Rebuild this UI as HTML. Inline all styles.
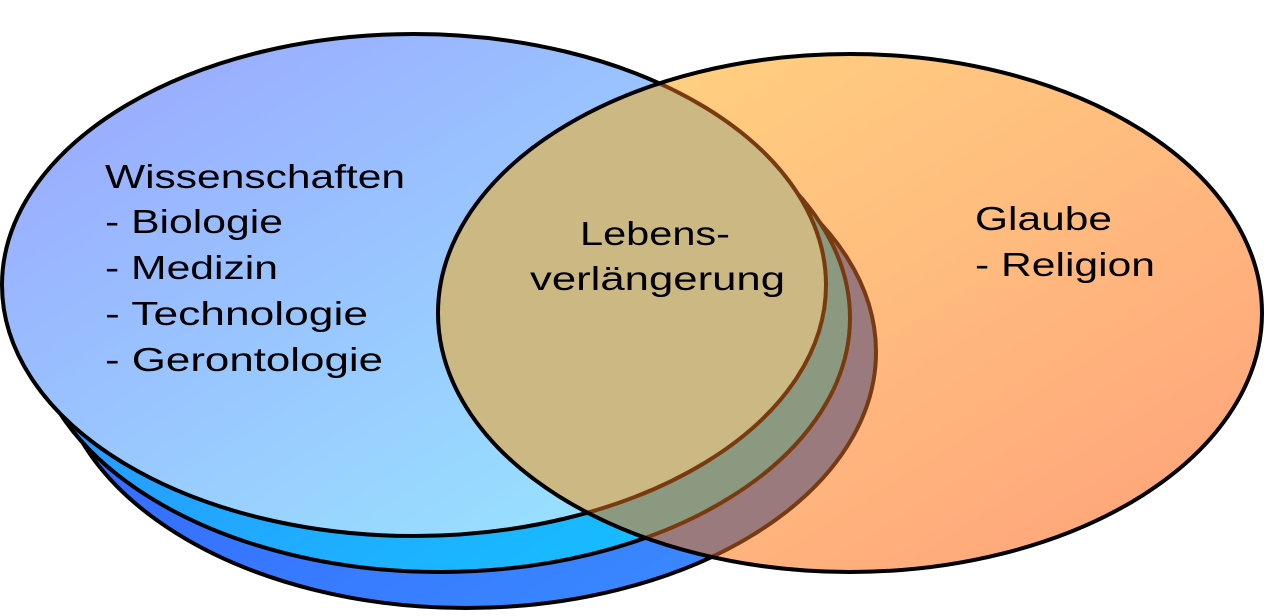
<!DOCTYPE html>
<html><head><meta charset="utf-8"><style>html,body{margin:0;padding:0;background:#fff}svg{display:block}</style></head>
<body>
<svg width="1269" height="616" viewBox="0 0 1269 616" xmlns="http://www.w3.org/2000/svg">
<defs>
<linearGradient id="gTop" x1="0" y1="0" x2="1" y2="1"><stop offset="0" stop-color="#9aa4ff"/><stop offset="1" stop-color="#98ecff"/></linearGradient>
<linearGradient id="gMid" x1="0" y1="0" x2="1" y2="1"><stop offset="0" stop-color="#3a7cff"/><stop offset="1" stop-color="#10c8ff"/></linearGradient>
<linearGradient id="gBack" x1="0" y1="0" x2="1" y2="1"><stop offset="0" stop-color="#3355ff"/><stop offset="1" stop-color="#3a90ff"/></linearGradient>
<linearGradient id="gR" x1="0" y1="0" x2="1" y2="1"><stop offset="0" stop-color="#ffd882"/><stop offset="1" stop-color="#ffa07a"/></linearGradient>
<clipPath id="cR"><ellipse cx="850" cy="313" rx="412" ry="259"/></clipPath>
</defs>
<ellipse cx="466" cy="352" rx="410" ry="256" fill="url(#gBack)" stroke="#000" stroke-width="4"/>
<ellipse cx="440" cy="318" rx="410" ry="254" fill="url(#gMid)" stroke="#000" stroke-width="4"/>
<ellipse cx="414" cy="285" rx="412" ry="251" fill="url(#gTop)" stroke="#000" stroke-width="4"/>
<ellipse cx="850" cy="313" rx="412" ry="259" fill="url(#gR)"/>
<g clip-path="url(#cR)">
<ellipse cx="466" cy="352" rx="410" ry="256" fill="#9a7a7c" stroke="#7a3a10" stroke-width="4"/>
<ellipse cx="440" cy="318" rx="410" ry="254" fill="#8a9980" stroke="#7a3a10" stroke-width="4"/>
<ellipse cx="414" cy="285" rx="412" ry="251" fill="#cbb882" stroke="#7a3a10" stroke-width="4"/>
</g>
<ellipse cx="850" cy="313" rx="412" ry="259" fill="none" stroke="#000" stroke-width="4"/>
<g font-family="Liberation Sans, sans-serif" font-size="33" fill="#000">
<text x="105" y="188" textLength="300" lengthAdjust="spacingAndGlyphs">Wissenschaften</text>
<text x="105" y="233" textLength="178" lengthAdjust="spacingAndGlyphs">- Biologie</text>
<text x="105" y="279" textLength="173" lengthAdjust="spacingAndGlyphs">- Medizin</text>
<text x="105" y="325" textLength="263" lengthAdjust="spacingAndGlyphs">- Technologie</text>
<text x="105" y="371" textLength="278" lengthAdjust="spacingAndGlyphs">- Gerontologie</text>
<text x="580" y="245" textLength="150" lengthAdjust="spacingAndGlyphs">Lebens-</text>
<text x="530" y="290" textLength="255" lengthAdjust="spacingAndGlyphs">verlängerung</text>
<text x="975" y="230" textLength="137" lengthAdjust="spacingAndGlyphs">Glaube</text>
<text x="975" y="276" textLength="180" lengthAdjust="spacingAndGlyphs">- Religion</text>
</g>
</svg>
</body></html>
